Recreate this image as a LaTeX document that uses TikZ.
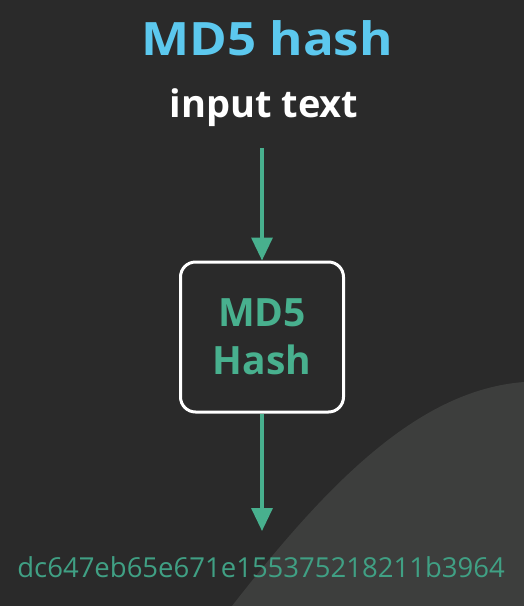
\documentclass[tikz,border=0pt]{standalone}
\usepackage{fontspec}
\setmainfont{Open Sans}
\usetikzlibrary{arrows.meta}
\definecolor{bgdark}{HTML}{2A2A2A}
\definecolor{bglight}{HTML}{3D3E3D}
\definecolor{titleblue}{HTML}{5CC8EE}
\definecolor{hashgreen}{HTML}{48B08E}
\definecolor{outgreen}{HTML}{40A084}
\tikzset{
  flow/.style={draw=hashgreen, line width=3.4pt, -{Triangle[width=21pt,length=23pt]}},
  procbox/.style={draw=white, line width=3pt, rounded corners=15pt, minimum width=163pt, minimum height=150pt, align=center, text=hashgreen, font=\fontsize{39}{48}\selectfont\bfseries}
}
\begin{document}
\begin{tikzpicture}[x=1pt,y=-1pt]
\fill[bgdark] (0,0) rectangle (524,606);
\useasboundingbox (0,0) rectangle (524,606);
\fill[bglight] (232,606) .. controls (330,480) and (420,390) .. (524,382) -- (524,606) -- cycle;
\node[text=titleblue, font=\fontsize{46}{54}\selectfont\bfseries, anchor=base] (title) at (267,55) {\scalebox{1.11}[1]{MD5 hash}};
\node[text=white, font=\fontsize{38}{46}\selectfont\bfseries, anchor=base] (input) at (264,117) {input text};
\coordinate (start) at (262,148);
\node[procbox] (md5) at (262,337) {\raisebox{-3pt}{MD5}\\\raisebox{-3pt}{Hash}};
\node[text=outgreen, font=\fontsize{27.5}{33}\selectfont, anchor=base] (out) at (261,577) {dc647eb65e671e155375218211b3964};
\coordinate (endpt) at (262,531);
\draw[flow] (start) -- (md5.north);
\draw[flow] (md5.south) -- (endpt);
\end{tikzpicture}
\end{document}
